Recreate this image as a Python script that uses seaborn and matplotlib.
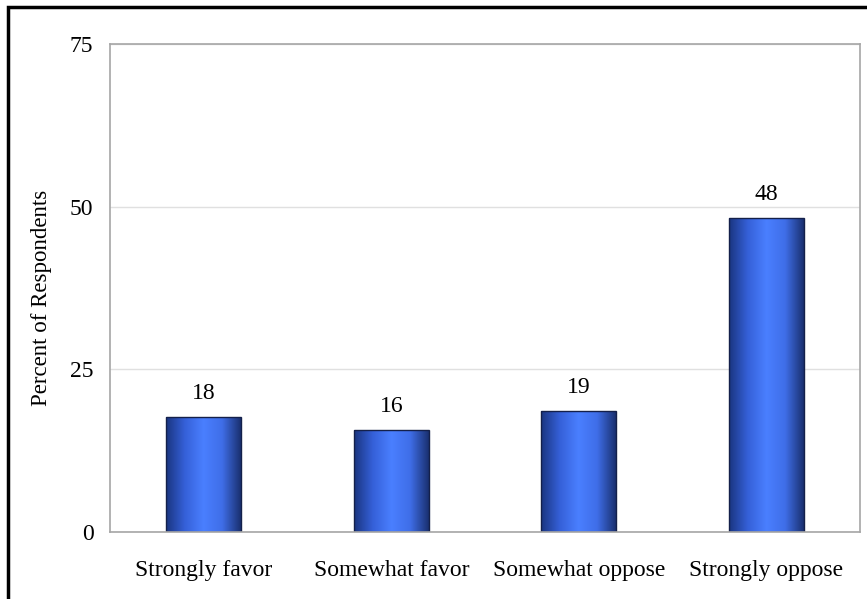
import numpy as np
import pandas as pd
import matplotlib
matplotlib.use("Agg")
import matplotlib.pyplot as plt
import seaborn as sns
from matplotlib.colors import LinearSegmentedColormap
from matplotlib.patches import Rectangle

categories = ["Strongly favor", "Somewhat favor", "Somewhat oppose", "Strongly oppose"]
percents = [17.6, 15.6, 18.6, 48.3]
y_ticks = [0, 25, 50, 75]

df = pd.DataFrame({"category": categories, "percent": percents})

sns.set_style("white")
plt.rcParams["font.family"] = ["Liberation Serif", "DejaVu Serif"]
plt.rcParams["text.color"] = "black"
plt.rcParams["xtick.labelcolor"] = "black"
plt.rcParams["ytick.labelcolor"] = "black"
plt.rcParams["axes.labelcolor"] = "black"

fig, ax = plt.subplots(figsize=(8.67, 5.99), dpi=100)
fig.subplots_adjust(left=0.127, right=0.992, top=0.926, bottom=0.112)

sns.barplot(data=df, x="category", y="percent", width=0.4, ax=ax,
            color="#3a66e0", edgecolor="#14204a", linewidth=1.0)

# horizontal gradient on each bar: dark edges, bright centre
grad = LinearSegmentedColormap.from_list(
    "bar", ["#1a3580", "#3560d8", "#4a7fff", "#3f6ee8", "#1a3070"])
g = np.linspace(0, 1, 256).reshape(1, -1)
for p in ax.patches:
    x0, y0 = p.get_x(), p.get_y()
    w, h = p.get_width(), p.get_height()
    im = ax.imshow(g, cmap=grad, aspect="auto", extent=[x0, x0 + w, y0, y0 + h],
                   zorder=p.get_zorder() + 0.1)
    im.set_clip_path(p)
    p.set_facecolor("none")
    p.set_zorder(p.get_zorder() + 0.2)

for i, v in enumerate(percents):
    ax.text(i, v + 2.0, f"{round(v):d}", ha="center", va="bottom", fontsize=17)

ax.set_xlim(-0.5, len(categories) - 0.5)
ax.set_ylim(0, 75)
ax.set_yticks(y_ticks)
ax.set_yticklabels([str(t) for t in y_ticks], fontsize=17)
ax.set_xticks(range(len(categories)))
ax.set_xticklabels(categories, fontsize=17)
ax.set_xticks(np.arange(-0.5, len(categories)), minor=True)
ax.tick_params(axis="x", which="major", length=0, pad=20)
ax.tick_params(axis="x", which="minor", length=7, color="#bbbbbb", direction="out")
ax.tick_params(axis="y", length=6, color="#bbbbbb", direction="out", pad=6)
ax.set_xlabel("")
ax.set_ylabel("Percent of Respondents", fontsize=16.5)
ax.yaxis.set_label_coords(-0.077, 0.48)

ax.yaxis.grid(True, color="#e0e0e0", linewidth=1)
ax.set_axisbelow(True)
for s in ax.spines.values():
    s.set_visible(True)
    s.set_color("#a6a6a6")
    s.set_linewidth(1.2)

# outer frame (partly cut off on right and bottom as in the original)
fig.patches.append(Rectangle((0.0098, -0.05), 1.2, 1.038, transform=fig.transFigure,
                             fill=False, edgecolor="black", linewidth=2.5))

fig.savefig("out.png", dpi=100)
